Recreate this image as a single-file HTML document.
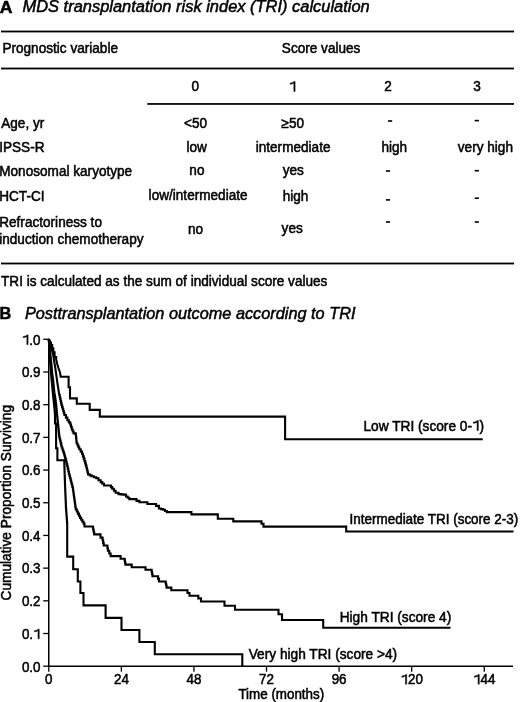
<!DOCTYPE html>
<html><head><meta charset="utf-8"><title>MDS TRI</title>
<style>
html,body{margin:0;padding:0;background:#fff;width:520px;height:702px;overflow:hidden;}
svg{display:block;filter:grayscale(1);}
text{font-family:"Liberation Sans",sans-serif;fill:#000;stroke:#000;stroke-width:0.5px;}
.h{fill:none;stroke:none;}
.g1{fill:#000;stroke:#000;stroke-width:0.5px;}
</style></head><body>
<svg width="520" height="702" viewBox="0 0 520 702">
<rect width="520" height="702" fill="#fff"/>
<g fill="#000"><rect x="388.00" y="120.20" width="4.2" height="1.6"/><rect x="385.90" y="170.20" width="4.2" height="1.6"/><rect x="385.90" y="199.10" width="4.2" height="1.6"/><rect x="385.90" y="221.20" width="4.2" height="1.6"/><rect x="474.70" y="119.80" width="4.2" height="1.6"/><rect x="474.70" y="169.90" width="4.2" height="1.6"/><rect x="474.70" y="197.40" width="4.2" height="1.6"/><rect x="474.70" y="221.20" width="4.2" height="1.6"/><rect x="1" y="30.6" width="513" height="1.8"/><rect x="1" y="67.6" width="513" height="1.8"/><rect x="147.3" y="103" width="366.7" height="1.9" fill="#151515"/><rect x="1" y="262.6" width="513" height="1.8"/></g>
<g><line x1="48.75" y1="338.5" x2="48.75" y2="666.9" stroke="#000" stroke-width="1.5"/><line x1="48.0" y1="666.2" x2="513" y2="666.2" stroke="#000" stroke-width="1.4"/><line x1="43.2" y1="666.20" x2="48.75" y2="666.20" stroke="#000" stroke-width="1.3"/><line x1="43.2" y1="633.51" x2="48.75" y2="633.51" stroke="#000" stroke-width="1.3"/><line x1="43.2" y1="600.82" x2="48.75" y2="600.82" stroke="#000" stroke-width="1.3"/><line x1="43.2" y1="568.13" x2="48.75" y2="568.13" stroke="#000" stroke-width="1.3"/><line x1="43.2" y1="535.44" x2="48.75" y2="535.44" stroke="#000" stroke-width="1.3"/><line x1="43.2" y1="502.75" x2="48.75" y2="502.75" stroke="#000" stroke-width="1.3"/><line x1="43.2" y1="470.06" x2="48.75" y2="470.06" stroke="#000" stroke-width="1.3"/><line x1="43.2" y1="437.37" x2="48.75" y2="437.37" stroke="#000" stroke-width="1.3"/><line x1="43.2" y1="404.68" x2="48.75" y2="404.68" stroke="#000" stroke-width="1.3"/><line x1="43.2" y1="371.99" x2="48.75" y2="371.99" stroke="#000" stroke-width="1.3"/><line x1="43.2" y1="339.30" x2="48.75" y2="339.30" stroke="#000" stroke-width="1.3"/><line x1="48.80" y1="666.2" x2="48.80" y2="671.7" stroke="#000" stroke-width="1.3"/><line x1="121.38" y1="666.2" x2="121.38" y2="671.7" stroke="#000" stroke-width="1.3"/><line x1="193.95" y1="666.2" x2="193.95" y2="671.7" stroke="#000" stroke-width="1.3"/><line x1="266.53" y1="666.2" x2="266.53" y2="671.7" stroke="#000" stroke-width="1.3"/><line x1="339.10" y1="666.2" x2="339.10" y2="671.7" stroke="#000" stroke-width="1.3"/><line x1="411.68" y1="666.2" x2="411.68" y2="671.7" stroke="#000" stroke-width="1.3"/><line x1="484.26" y1="666.2" x2="484.26" y2="671.7" stroke="#000" stroke-width="1.3"/></g>
<g fill="none" stroke="#000" stroke-width="2.1" stroke-linejoin="miter" stroke-linecap="butt"><path d="M48.80,339.30V340.50H49.80V342.50H51.00V345.00H52.20V348.40H53.30V352.40H54.60V357.00H56.10V359.00L57.10,363.50L58.40,368.00L60.00,372.50L60.70,376.70H68.60V387.30H70.00V398.40H76.80V403.70H89.70V409.90H99.80V416.60H285.10V439.20H482.70"/><path d="M48.80,339.30L50.00,343.00L51.50,348.00L53.00,354.00L54.00,360.00L55.30,368.00L57.00,380.00L57.70,385.00L59.30,395.00H59.74V397.00H60.18V399.00H60.62V401.00H61.06V403.00H61.50V405.00H62.08V407.00H62.66V409.00H63.24V411.00H63.82V413.00H64.40V415.00H65.90V417.60H67.40V420.20H68.85V422.40H70.30V424.60H71.05V427.05H71.80V429.50H72.70V431.45H73.60V433.40H75.80V435.50H76.07V438.07H76.33V440.63H76.60V443.20H77.50V445.23H78.40V447.27H79.30V449.30H80.70V451.65H82.10V454.00H82.90V456.33H83.70V458.67H84.50V461.00H85.17V463.33H85.83V465.67H86.50V468.00H87.00V470.13H87.50V472.27H88.00V474.40H89.75V475.35H91.50V476.30H93.90V477.30H96.30V478.30H98.50V480.20H100.70V482.10H102.35V483.80H104.00V485.50H109.80H111.00V487.15H112.20V488.80H113.90V490.75H115.60V492.70H118.50V494.10H120.90V494.35H123.30V494.60H126.00V496.50H127.65V497.80H129.30V499.10H133.70H136.50V500.90H139.40V502.30H145.20H147.40V504.00H153.90H156.00V505.90H158.90V508.50H161.05V509.15H163.20V509.80H165.00V510.95H166.80V512.10H191.40V514.40H217.80V518.70H233.30V521.40H260.20H261.50V523.80H263.50V526.60H346.20V531.50H513.50"/><path d="M48.80,339.30L49.60,345.00L50.50,355.00L51.50,365.00L52.40,375.00L53.30,381.00L54.60,395.00H54.88V397.00H55.16V399.00H55.44V401.00H55.72V403.00H56.00V405.00H56.20V407.00H56.40V409.00H56.60V411.00H56.80V413.00H57.00V415.00H57.20V417.00H57.40V419.00H57.60V421.00H57.80V423.00H58.00V425.00H58.22V427.03H58.43V429.07H58.65V431.10H58.87V433.13H59.08V435.17H59.30V437.20H59.78V439.26H60.26V441.32H60.74V443.38H61.22V445.44H61.70V447.50H62.40V449.50H63.10V451.50H63.80V453.50H64.37V455.47H64.93V457.43H65.50V459.40H66.07V461.70H66.63V464.00H67.20V466.30H67.77V468.87H68.33V471.43H68.90V474.00H69.45V476.00H70.00V478.00H70.58V480.26H71.16V482.52H71.74V484.78H72.32V487.04H72.90V489.30H73.18V491.30H73.46V493.30H73.74V495.30H74.02V497.30H74.30V499.30H74.58V501.30H74.86V503.30H75.14V505.30H75.42V507.30H75.70V509.30H76.78V511.45H77.85V513.60H78.92V515.75H80.00V517.90H81.20V519.80H82.40V521.70H83.60V523.60H84.50V526.50H92.60H93.00V528.48H93.40V530.45H93.80V532.42H94.20V534.40H98.40H100.50V537.60H102.60V540.20H103.15V542.85H103.70V545.50H106.90H107.40V548.15H107.90V550.80H109.25V553.45H110.60V556.10H118.50H120.60V558.70H124.30H124.67V560.67H125.03V562.63H125.40V564.60H130.10H131.70V567.20H145.50V569.70H151.20H151.63V571.87H152.07V574.03H152.50V576.20H157.20H158.10V578.85H159.00V581.50H165.30H165.73V583.53H166.17V585.57H166.60V587.60H170.70H171.30V590.30H186.10H187.50V593.00H189.50V595.70H196.90H198.30V598.40H201.00V601.50H224.50V605.70H235.00V609.70H278.50V614.30H282.00V620.00H323.20V627.70H450.50"/><path d="M48.80,339.30L49.30,350.00L50.00,360.00L50.80,370.00L51.60,380.00L53.00,395.00H53.22V397.00H53.44V399.00H53.66V401.00H53.88V403.00H54.10V405.00H54.28V407.00H54.46V409.00H54.64V411.00H54.82V413.00H55.00V415.00V423.50H56.10V448.30H57.40V460.30H64.20H64.28V462.73H64.35V465.15H64.42V467.57H64.50V470.00H64.57V472.14H64.64V474.29H64.71V476.43H64.79V478.57H64.86V480.71H64.93V482.86H65.00V485.00H65.09V487.18H65.18V489.36H65.27V491.55H65.36V493.73H65.45V495.91H65.55V498.09H65.64V500.27H65.73V502.45H65.82V504.64H65.91V506.82H66.00V509.00H66.17V511.29H66.34V513.57H66.51V515.86H66.69V518.14H66.86V520.43H67.03V522.71H67.20V525.00V556.60H73.20V569.20H77.80V581.50H80.40V593.00H83.50V605.40H105.60V617.90H121.50V630.00H139.40V642.00H154.80V654.30H242.30V666.20"/></g>
<g>
<text transform="translate(-0.20 12.60) scale(1.08 1.0)" font-size="16.3" font-weight="bold">A</text>
<text transform="translate(22.50 11.80) scale(1.0 1.05)" font-size="16.45" font-style="italic">MDS transplantation risk index (TRI) calculation</text>
<text transform="translate(2.41 52.60) scale(1.0 1.05)" font-size="13.6">Prognostic variable</text>
<text transform="translate(281.82 52.60) scale(1.0 1.05)" font-size="13.6">Score values</text>
<text transform="translate(195.20 91.40) scale(1.0 1.05)" font-size="13.6" text-anchor="middle">0</text>
<text transform="translate(292.60 91.40) scale(1.0 1.05)" font-size="13.6" text-anchor="middle"><tspan class="h">1</tspan></text>
<text transform="translate(388.00 91.40) scale(1.0 1.05)" font-size="13.6" text-anchor="middle">2</text>
<text transform="translate(477.00 91.40) scale(1.0 1.05)" font-size="13.6" text-anchor="middle">3</text>
<text transform="translate(1.20 127.80) scale(1.0 1.05)" font-size="13.6">Age, yr</text>
<text transform="translate(-0.79 151.50) scale(1.0 1.05)" font-size="13.6">IPSS-R</text>
<text transform="translate(-0.79 175.50) scale(1.0 1.05)" font-size="13.6">Monosomal karyotype</text>
<text transform="translate(-0.79 200.80) scale(1.0 1.05)" font-size="13.6">HCT-CI</text>
<text transform="translate(-0.79 227.00) scale(1.0 1.05)" font-size="13.6">Refractoriness to</text>
<text transform="translate(-0.79 243.60) scale(1.0 1.05)" font-size="13.6">induction chemotherapy</text>
<text transform="translate(195.50 127.60) scale(1.0 1.05)" font-size="13.6" text-anchor="middle">&lt;50</text>
<text transform="translate(196.60 151.60) scale(1.0 1.05)" font-size="13.6" text-anchor="middle">low</text>
<text transform="translate(196.90 175.30) scale(1.0 1.05)" font-size="13.6" text-anchor="middle">no</text>
<text transform="translate(198.10 200.30) scale(1.0 1.05)" font-size="13.6" text-anchor="middle">low/intermediate</text>
<text transform="translate(195.60 233.50) scale(1.0 1.05)" font-size="13.6" text-anchor="middle">no</text>
<text transform="translate(281.60 127.60) scale(1.0 1.05)" font-size="13.6">≥50</text>
<text transform="translate(255.70 151.60) scale(1.0 1.05)" font-size="13.6">intermediate</text>
<text transform="translate(282.70 175.30) scale(1.0 1.05)" font-size="13.6">yes</text>
<text transform="translate(282.70 201.00) scale(1.0 1.05)" font-size="13.6">high</text>
<text transform="translate(281.60 232.70) scale(1.0 1.05)" font-size="13.6">yes</text>
<text transform="translate(381.38 151.60) scale(1.0 1.05)" font-size="13.6">high</text>
<text transform="translate(457.80 151.60) scale(1.0 1.05)" font-size="13.6">very high</text>
<text transform="translate(1.02 285.90) scale(1.0 1.05)" font-size="13.6">TRI is calculated as the sum of individual score values</text>
<text transform="translate(-0.60 319.30) scale(1.0 1.0)" font-size="16.3" font-weight="bold">B</text>
<text transform="translate(24.91 319.10) scale(1.0 1.05)" font-size="16.3" font-style="italic">Posttransplantation outcome according to TRI</text>
<text transform="translate(40.50 671.50) scale(1.0 1.05)" font-size="13.4" text-anchor="end">0.0</text>
<text transform="translate(40.50 638.81) scale(1.0 1.05)" font-size="13.4" text-anchor="end">0.<tspan class="h">1</tspan></text>
<text transform="translate(40.50 606.12) scale(1.0 1.05)" font-size="13.4" text-anchor="end">0.2</text>
<text transform="translate(40.50 573.43) scale(1.0 1.05)" font-size="13.4" text-anchor="end">0.3</text>
<text transform="translate(40.50 540.74) scale(1.0 1.05)" font-size="13.4" text-anchor="end">0.4</text>
<text transform="translate(40.50 508.05) scale(1.0 1.05)" font-size="13.4" text-anchor="end">0.5</text>
<text transform="translate(40.50 475.36) scale(1.0 1.05)" font-size="13.4" text-anchor="end">0.6</text>
<text transform="translate(40.50 442.67) scale(1.0 1.05)" font-size="13.4" text-anchor="end">0.7</text>
<text transform="translate(40.50 409.98) scale(1.0 1.05)" font-size="13.4" text-anchor="end">0.8</text>
<text transform="translate(40.50 377.29) scale(1.0 1.05)" font-size="13.4" text-anchor="end">0.9</text>
<text transform="translate(40.50 344.60) scale(1.0 1.05)" font-size="13.4" text-anchor="end"><tspan class="h">1</tspan>.0</text>
<text transform="translate(48.80 684.20) scale(1.0 1.05)" font-size="13.4" text-anchor="middle">0</text>
<text transform="translate(121.38 684.20) scale(1.0 1.05)" font-size="13.4" text-anchor="middle">24</text>
<text transform="translate(193.95 684.20) scale(1.0 1.05)" font-size="13.4" text-anchor="middle">48</text>
<text transform="translate(266.53 684.20) scale(1.0 1.05)" font-size="13.4" text-anchor="middle">72</text>
<text transform="translate(339.10 684.20) scale(1.0 1.05)" font-size="13.4" text-anchor="middle">96</text>
<text transform="translate(411.68 684.20) scale(1.0 1.05)" font-size="13.4" text-anchor="middle"><tspan class="h">1</tspan>20</text>
<text transform="translate(484.26 684.20) scale(1.0 1.05)" font-size="13.4" text-anchor="middle"><tspan class="h">1</tspan>44</text>
<text transform="translate(238.43 698.70) scale(1.0 1.05)" font-size="13.4">Time (months)</text>
<text transform="translate(11.4 600.5) rotate(-90) scale(1 1.06)" font-size="13.7">Cumulative Proportion Surviving</text>
<text transform="translate(363.50 430.50) scale(1.0 1.05)" font-size="13.7">Low TRI (score 0-<tspan class="h">1</tspan>)</text>
<text transform="translate(349.59 524.00) scale(1.0 1.05)" font-size="13.45">Intermediate TRI (score 2-3)</text>
<text transform="translate(339.70 622.00) scale(1.0 1.05)" font-size="13.7">High TRI (score 4)</text>
<text transform="translate(248.70 658.70) scale(1.0 1.05)" font-size="13.7">Very high TRI (score &gt;4)</text>
</g>
<g class="g1"><path transform="translate(292.60 91.40) scale(1.0 1.05)" d="M1.27,0.00 L2.48,0.00 L2.48,-9.36 L1.53,-9.36 Q0.86,-8.23 -2.43,-7.84 L-2.43,-6.74 Q-0.07,-7.01 1.27,-7.90 Z"/><path transform="translate(40.50 638.81) scale(1.0 1.05)" d="M-2.47,0.00 L-1.28,0.00 L-1.28,-9.22 L-2.22,-9.22 Q-2.87,-8.11 -6.11,-7.72 L-6.11,-6.64 Q-3.79,-6.90 -2.47,-7.79 Z"/><path transform="translate(40.50 344.60) scale(1.0 1.05)" d="M-13.64,0.00 L-12.45,0.00 L-12.45,-9.22 L-13.39,-9.22 Q-14.04,-8.11 -17.28,-7.72 L-17.28,-6.64 Q-14.96,-6.90 -13.64,-7.79 Z"/><path transform="translate(411.68 684.20) scale(1.0 1.05)" d="M-6.18,0.00 L-5.00,0.00 L-5.00,-9.22 L-5.94,-9.22 Q-6.59,-8.11 -9.83,-7.72 L-9.83,-6.64 Q-7.51,-6.90 -6.18,-7.79 Z"/><path transform="translate(484.26 684.20) scale(1.0 1.05)" d="M-6.18,0.00 L-5.00,0.00 L-5.00,-9.22 L-5.94,-9.22 Q-6.59,-8.11 -9.83,-7.72 L-9.83,-6.64 Q-7.51,-6.90 -6.18,-7.79 Z"/><path transform="translate(363.50 430.50) scale(1.0 1.05)" d="M113.60,0.00 L114.81,0.00 L114.81,-9.43 L113.86,-9.43 Q113.19,-8.29 109.88,-7.89 L109.88,-6.79 Q112.25,-7.06 113.60,-7.96 Z"/></g>
</svg>
</body></html>
